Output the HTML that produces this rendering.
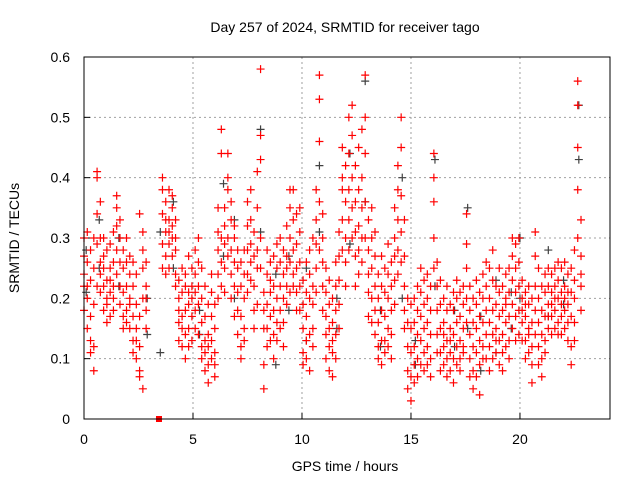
<!DOCTYPE html>
<html><head><meta charset="utf-8"><style>
body{margin:0;background:#fff;}
svg{display:block;font-family:"Liberation Sans",sans-serif;}
</style></head><body>
<svg id="chart" width="640" height="480">
<text x="345" y="32" font-size="14" text-anchor="middle">Day 257 of 2024, SRMTID for receiver tago</text>
<text x="19" y="238" font-size="14" text-anchor="middle" transform="rotate(-90 19 238)">SRMTID / TECUs</text>
<text x="345" y="471" font-size="14" text-anchor="middle">GPS time / hours</text>
<g id="grid"></g>
<g id="ticks"></g>
<g id="gray"></g>
<g id="red"></g>
<rect x="84" y="57" width="526" height="362" fill="none" stroke="#000" stroke-width="1"/>
</svg>
<script>
const xTicks=[0,5,10,15,20];
const yTicks=[0,0.1,0.2,0.3,0.4,0.5,0.6];
const yTickLabels=["0","0.1","0.2","0.3","0.4","0.5","0.6"];
const redT=[0,0.15,0.3,0.45,0.6,0.75,0.9,1.05,1.2,1.35,1.5,1.65,1.8,1.95,2.1,2.25,2.4,2.55,2.7,2.85,3.6,3.75,3.9,4.05,4.2,4.35,4.5,4.65,4.8,4.95,5.1,5.25,5.4,5.55,5.7,5.85,6.0,6.15,6.3,6.45,6.6,6.75,6.9,7.05,7.2,7.35,7.5,7.65,7.8,7.95,8.1,8.25,8.4,8.55,8.7,8.85,9.0,9.15,9.3,9.45,9.6,9.75,9.9,10.05,10.2,10.35,10.5,10.65,10.8,10.95,11.1,11.25,11.4,11.55,11.7,11.85,12.0,12.15,12.3,12.45,12.6,12.75,12.9,13.05,13.2,13.35,13.5,13.65,13.8,13.95,14.1,14.25,14.4,14.55,14.7,14.85,15.0,15.15,15.3,15.45,15.6,15.75,15.9,16.05,16.2,16.35,16.5,16.65,16.8,16.95,17.1,17.25,17.4,17.55,17.7,17.85,18.0,18.15,18.3,18.45,18.6,18.75,18.9,19.05,19.2,19.35,19.5,19.65,19.8,19.95,20.1,20.25,20.4,20.55,20.7,20.85,21.0,21.15,21.3,21.45,21.6,21.75,21.9,22.05,22.2,22.35,22.5,22.65,22.8];
const redV=[[.24,.30,.22,.18,.27],[.20,.26,.31,.15,.22],[.13,.17,.28,.23,.11],[.08,.12,.25,.30,.19],[.34,.40,.41,.29,.22],[.30,.26,.36,.21,.24],[.22,.18,.27,.25,.30],[.20,.16,.23,.28,.19],[.25,.21,.17,.29,.23],[.18,.26,.22,.31,.20],[.32,.35,.28,.24,.37],[.30,.26,.22,.33,.19],[.17,.21,.25,.15,.28],[.22,.18,.30,.26,.16],[.20,.24,.27,.15,.19],[.13,.17,.22,.26,.11],[.15,.10,.19,.24,.13],[.08,.12,.07,.17,.34],[.25,.20,.28,.31,.05],[.18,.15,.22,.26,.20],[.40,.34,.29,.25,.38],[.31,.27,.36,.33,.24],[.29,.33,.38,.25,.31],[.35,.30,.27,.32,.37],[.28,.24,.22,.30,.33],[.20,.16,.13,.23,.18],[.12,.17,.21,.25,.15],[.22,.18,.14,.10,.24],[.19,.15,.27,.21,.12],[.17,.22,.13,.25,.20],[.15,.21,.28,.18,.24],[.22,.19,.30,.14,.26],[.16,.12,.20,.25,.10],[.13,.08,.17,.22,.11],[.09,.14,.06,.19,.12],[.17,.21,.10,.13,.24],[.07,.11,.15,.19,.09],[.24,.28,.31,.20,.35],[.48,.44,.30,.26,.22],[.29,.35,.25,.21,.32],[.44,.40,.38,.30,.27],[.33,.28,.24,.20,.36],[.30,.26,.22,.17,.32],[.25,.21,.14,.18,.28],[.17,.12,.22,.26,.10],[.20,.15,.28,.24,.13],[.32,.28,.24,.36,.21],[.38,.33,.29,.26,.23],[.22,.18,.31,.27,.15],[.35,.28,.25,.19,.41],[.58,.47,.43,.30,.25],[.05,.09,.15,.21,.18],[.19,.24,.15,.12,.28],[.26,.21,.17,.13,.23],[.18,.14,.22,.27,.10],[.20,.16,.25,.29,.13],[.22,.18,.26,.30,.15],[.24,.20,.28,.16,.12],[.27,.22,.19,.32,.25],[.30,.26,.35,.21,.38],[.33,.28,.24,.38,.22],[.29,.25,.21,.34,.18],[.26,.31,.22,.18,.35],[.15,.11,.19,.23,.09],[.17,.13,.21,.26,.10],[.14,.20,.08,.24,.28],[.19,.15,.22,.12,.30],[.33,.38,.25,.21,.29],[.57,.53,.46,.36,.28],[.30,.26,.22,.18,.34],[.14,.10,.17,.21,.25],[.12,.08,.15,.19,.23],[.07,.11,.16,.20,.13],[.18,.14,.22,.26,.10],[.27,.23,.19,.31,.15],[.45,.38,.33,.28,.40],[.30,.36,.26,.42,.22],[.50,.44,.38,.33,.28],[.52,.47,.40,.35,.30],[.36,.31,.27,.42,.22],[.32,.28,.24,.45,.38],[.40,.35,.30,.26,.48],[.57,.50,.44,.36,.30],[.28,.24,.21,.33,.17],[.30,.25,.20,.35,.16],[.22,.18,.27,.14,.31],[.16,.12,.20,.24,.10],[.13,.09,.18,.22,.27],[.17,.13,.21,.25,.11],[.20,.15,.12,.24,.29],[.14,.18,.10,.22,.26],[.30,.35,.27,.23,.19],[.42,.38,.33,.28,.24],[.50,.45,.37,.31,.26],[.22,.18,.27,.33,.15],[.08,.12,.05,.16,.20],[.03,.07,.11,.15,.19],[.12,.09,.16,.20,.06],[.10,.14,.18,.22,.07],[.13,.17,.09,.21,.25],[.15,.11,.19,.08,.23],[.12,.16,.20,.09,.24],[.14,.10,.18,.22,.07],[.44,.40,.36,.30,.25],[.22,.18,.14,.26,.11],[.15,.11,.19,.08,.23],[.12,.16,.09,.20,.14],[.18,.13,.10,.22,.07],[.11,.15,.19,.08,.13],[.14,.10,.18,.21,.06],[.16,.12,.20,.09,.23],[.13,.17,.10,.21,.08],[.15,.11,.19,.22,.12],[.34,.29,.25,.20,.16],[.18,.14,.10,.22,.07],[.12,.08,.16,.05,.20],[.15,.11,.19,.07,.23],[.13,.09,.17,.04,.21],[.16,.12,.20,.10,.24],[.14,.10,.18,.22,.26],[.12,.16,.08,.20,.25],[.28,.23,.18,.14,.10],[.15,.11,.19,.22,.13],[.17,.13,.21,.09,.25],[.14,.18,.11,.22,.08],[.16,.12,.20,.24,.19],[.21,.17,.13,.25,.10],[.27,.23,.19,.15,.30],[.25,.21,.17,.29,.13],[.22,.18,.14,.26,.30],[.20,.16,.13,.23,.18],[.17,.13,.21,.10,.19],[.15,.11,.19,.22,.14],[.12,.16,.09,.20,.06],[.31,.27,.22,.18,.14],[.16,.12,.20,.09,.25],[.14,.10,.18,.22,.07],[.17,.13,.21,.24,.11],[.19,.15,.22,.25,.17],[.21,.17,.14,.24,.19],[.18,.22,.15,.25,.20],[.20,.16,.23,.26,.14],[.17,.21,.25,.14,.19],[.22,.18,.15,.26,.20],[.19,.24,.16,.21,.13],[.25,.21,.17,.12,.09],[.20,.16,.28,.23,.13],[.56,.52,.45,.38,.30],[.27,.22,.18,.33,.24]];
const grayT=[0.1,0.7,1.6,2.9,3.5,4.1,5.3,6.4,6.9,8.1,8.8,9.4,10.2,10.8,11.6,12.2,12.9,13.6,14.6,15.2,16.1,17.0,17.6,18.2,18.9,19.6,20.0,21.3,22.0,22.7];
const grayV=[[.28,.21],[.33,.25],[.30,.22],[.20,.14],[.11,.31],[.36,.25],[.18,.14],[.39,.27],[.33,.20],[.48,.31],[.09,.24],[.27,.18],[.25,.13],[.42,.31],[.20,.15],[.44,.29],[.56,.36],[.18,.12],[.40,.20],[.13,.09],[.43,.22],[.12,.18],[.35,.15],[.08,.17],[.23,.11],[.21,.15],[.30,.20],[.28,.17],[.19,.23],[.52,.43]];
const redSquareT=[3.44];
const X0=84,X1=610,Y0=419,Y1=57,XMAX=24.13,YMAX=0.6;
function sx(t){return X0+t*(X1-X0)/XMAX;}
function sy(v){return Y0-v*(Y0-Y1)/YMAX;}
const NS="http://www.w3.org/2000/svg";
function mk(tag,attrs,parent){const e=document.createElementNS(NS,tag);for(const k in attrs)e.setAttribute(k,attrs[k]);parent.appendChild(e);return e;}
const grid=document.getElementById('grid'),ticks=document.getElementById('ticks');
xTicks.forEach(t=>{
  const x=sx(t);
  if(t>0){const g=mk('line',{x1:x,x2:x,y1:Y1,y2:Y0,stroke:'#a0a0a0','stroke-dasharray':'2,3'},grid);
  
  }
  const l=mk('line',{x1:x,x2:x,y1:Y0,y2:Y0-6,stroke:'#000'},ticks);
  
  
  const tx=mk('text',{x:x,y:Y0+25,'font-size':14,'text-anchor':'middle'},ticks);tx.textContent=t;
  
  
});
yTicks.forEach((v,i)=>{
  const y=sy(v);
  if(v>0&&v<YMAX){const g=mk('line',{x1:X0,x2:X1,y1:y,y2:y,stroke:'#a0a0a0','stroke-dasharray':'2,3'},grid);
  
  }
  const l=mk('line',{x1:X0,x2:X0+6,y1:y,y2:y,stroke:'#000'},ticks);
  
  
  const tx=mk('text',{x:X0-14,y:y+5,'font-size':14,'text-anchor':'end'},ticks);tx.textContent=yTickLabels[i];
  
  
});
function plus(g,x,y,c){const p=mk('path',{d:`M${x-4},${y}h8M${x},${y-4}v8`,stroke:c,'stroke-width':1.2,fill:'none'},g);
  
  }
const gg=document.getElementById('gray'),rg=document.getElementById('red');
grayT.forEach((t,i)=>grayV[i].forEach(v=>plus(gg,sx(t),sy(v),'#404040')));
redT.forEach((t,i)=>redV[i].forEach(v=>plus(rg,sx(t),sy(v),'#ff0000')));
redSquareT.forEach(t=>{const r=mk('rect',{x:sx(t)-3,y:Y0-3,width:6,height:6,fill:'#ff0000'},rg);
  
  });
</script>
</body></html>
